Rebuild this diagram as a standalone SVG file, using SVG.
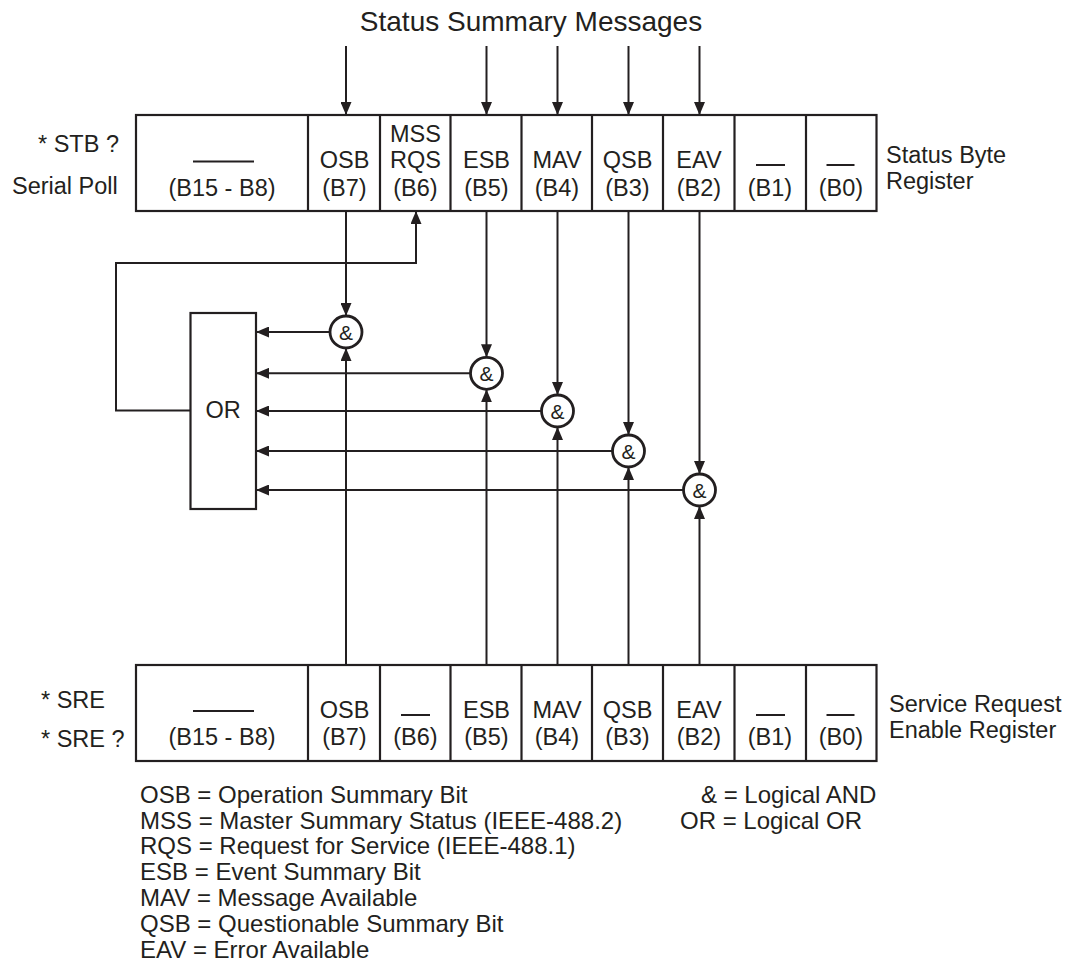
<svg xmlns="http://www.w3.org/2000/svg" width="1072" height="961" viewBox="0 0 1072 961">
<defs>
<marker id="ah" viewBox="0 0 13 11" refX="13" refY="5.5" markerWidth="13" markerHeight="11" orient="auto" markerUnits="userSpaceOnUse"><path d="M0,0 L13,5.5 L0,11 z" fill="#231f20"/></marker>
<style>
text{font-family:"Liberation Sans",Arial,sans-serif;font-size:23.5px;fill:#231f20}
.c{text-anchor:middle}
.t{font-size:28px}
.lg{font-size:24px}
.amp{font-size:21px}
.box{fill:#fff;stroke:#231f20;stroke-width:2.2}
.ln{fill:none;stroke:#231f20;stroke-width:2.2}
.ar{fill:none;stroke:#231f20;stroke-width:2;marker-end:url(#ah)}
.gate{fill:#fff;stroke:#231f20;stroke-width:2.8}
.ov{stroke:#231f20;stroke-width:2}
</style>
</defs>
<rect width="1072" height="961" fill="#fff"/>
<text class="t c" x="531" y="31">Status Summary Messages</text>

<g id="connectors">
<line class="ar" x1="346" y1="46" x2="346" y2="115"/>
<line class="ar" x1="486.5" y1="46" x2="486.5" y2="115"/>
<line class="ar" x1="557.5" y1="46" x2="557.5" y2="115"/>
<line class="ar" x1="628.5" y1="46" x2="628.5" y2="115"/>
<line class="ar" x1="699.5" y1="46" x2="699.5" y2="115"/>
<line class="ar" x1="346" y1="211" x2="346" y2="316"/>
<line class="ar" x1="486.5" y1="211" x2="486.5" y2="357.3"/>
<line class="ar" x1="557.5" y1="211" x2="557.5" y2="395"/>
<line class="ar" x1="628.5" y1="211" x2="628.5" y2="435"/>
<line class="ar" x1="699.5" y1="211" x2="699.5" y2="474"/>
<line class="ar" x1="346" y1="665" x2="346" y2="348"/>
<line class="ar" x1="486.5" y1="665" x2="486.5" y2="389.3"/>
<line class="ar" x1="557.5" y1="665" x2="557.5" y2="427"/>
<line class="ar" x1="628.5" y1="665" x2="628.5" y2="467"/>
<line class="ar" x1="699.5" y1="665" x2="699.5" y2="506"/>
<line class="ar" x1="330" y1="332" x2="256" y2="332"/>
<line class="ar" x1="470.5" y1="373.3" x2="256" y2="373.3"/>
<line class="ar" x1="541.5" y1="411" x2="256" y2="411"/>
<line class="ar" x1="612.5" y1="451" x2="256" y2="451"/>
<line class="ar" x1="683.5" y1="490" x2="256" y2="490"/>
<polyline class="ar" points="190.5,410.5 116,410.5 116,263 416,263 416,211"/>
</g>

<g id="status-byte-register">
<rect class="box" x="136" y="115" width="740.5" height="96"/>
<line class="ln" x1="308" y1="115" x2="308" y2="211"/>
<line class="ln" x1="380" y1="115" x2="380" y2="211"/>
<line class="ln" x1="450.5" y1="115" x2="450.5" y2="211"/>
<line class="ln" x1="521.5" y1="115" x2="521.5" y2="211"/>
<line class="ln" x1="592" y1="115" x2="592" y2="211"/>
<line class="ln" x1="663" y1="115" x2="663" y2="211"/>
<line class="ln" x1="734.5" y1="115" x2="734.5" y2="211"/>
<line class="ln" x1="806" y1="115" x2="806" y2="211"/>
<line class="ov" x1="193" y1="161.5" x2="254" y2="161.5"/>
<text class="c" x="222" y="195.5">(B15 - B8)</text>
<text class="c" x="344.5" y="167.7">OSB</text><text class="c" x="344.5" y="195.5">(B7)</text>
<text class="c" x="415.5" y="141.7">MSS</text><text class="c" x="415.5" y="167.7">RQS</text><text class="c" x="415.5" y="195.5">(B6)</text>
<text class="c" x="486.5" y="167.7">ESB</text><text class="c" x="486.5" y="195.5">(B5)</text>
<text class="c" x="557" y="167.7">MAV</text><text class="c" x="557" y="195.5">(B4)</text>
<text class="c" x="627.5" y="167.7">QSB</text><text class="c" x="627.5" y="195.5">(B3)</text>
<text class="c" x="699" y="167.7">EAV</text><text class="c" x="699" y="195.5">(B2)</text>
<line class="ov" x1="756" y1="165" x2="785" y2="165"/>
<text class="c" x="770" y="195.5">(B1)</text>
<line class="ov" x1="826.5" y1="165" x2="854.5" y2="165"/>
<text class="c" x="841" y="195.5">(B0)</text>
</g>
<g id="status-byte-labels">
<text x="38" y="152">* STB ?</text>
<text x="12" y="194">Serial Poll</text>
<text x="886" y="162.5">Status Byte</text>
<text x="886" y="188.5">Register</text>
</g>

<g id="or-gate">
<rect class="box" x="190.5" y="313" width="65.5" height="196"/>
<text class="c" x="223" y="417.5">OR</text>
</g>
<g id="and-osb"><circle class="gate" cx="346" cy="332" r="16"/><text class="c amp" x="346" y="339.5">&amp;</text></g>
<g id="and-esb"><circle class="gate" cx="486.5" cy="373.3" r="16"/><text class="c amp" x="486.5" y="380.8">&amp;</text></g>
<g id="and-mav"><circle class="gate" cx="557.5" cy="411" r="16"/><text class="c amp" x="557.5" y="418.5">&amp;</text></g>
<g id="and-qsb"><circle class="gate" cx="628.5" cy="451" r="16"/><text class="c amp" x="628.5" y="458.5">&amp;</text></g>
<g id="and-eav"><circle class="gate" cx="699.5" cy="490" r="16"/><text class="c amp" x="699.5" y="497.5">&amp;</text></g>

<g id="service-request-enable-register">
<rect class="box" x="136" y="665" width="740.5" height="96"/>
<line class="ln" x1="308" y1="665" x2="308" y2="761"/>
<line class="ln" x1="380" y1="665" x2="380" y2="761"/>
<line class="ln" x1="450.5" y1="665" x2="450.5" y2="761"/>
<line class="ln" x1="521.5" y1="665" x2="521.5" y2="761"/>
<line class="ln" x1="592" y1="665" x2="592" y2="761"/>
<line class="ln" x1="663" y1="665" x2="663" y2="761"/>
<line class="ln" x1="734.5" y1="665" x2="734.5" y2="761"/>
<line class="ln" x1="806" y1="665" x2="806" y2="761"/>
<line class="ov" x1="193" y1="711" x2="254" y2="711"/>
<text class="c" x="222" y="745">(B15 - B8)</text>
<text class="c" x="344.5" y="718">OSB</text><text class="c" x="344.5" y="745">(B7)</text>
<line class="ov" x1="401" y1="715" x2="430" y2="715"/>
<text class="c" x="415.5" y="745">(B6)</text>
<text class="c" x="486.5" y="718">ESB</text><text class="c" x="486.5" y="745">(B5)</text>
<text class="c" x="557" y="718">MAV</text><text class="c" x="557" y="745">(B4)</text>
<text class="c" x="627.5" y="718">QSB</text><text class="c" x="627.5" y="745">(B3)</text>
<text class="c" x="699" y="718">EAV</text><text class="c" x="699" y="745">(B2)</text>
<line class="ov" x1="756" y1="715" x2="785" y2="715"/>
<text class="c" x="770" y="745">(B1)</text>
<line class="ov" x1="826.5" y1="715" x2="854.5" y2="715"/>
<text class="c" x="841" y="745">(B0)</text>
</g>
<g id="sre-labels">
<text x="41" y="708">* SRE</text>
<text x="41" y="747">* SRE ?</text>
<text x="889" y="712">Service Request</text>
<text x="889" y="738">Enable Register</text>
</g>

<g id="legend">
<text class="lg" x="140" y="802.7">OSB = Operation Summary Bit</text>
<text class="lg" x="140" y="828.5">MSS = Master Summary Status (IEEE-488.2)</text>
<text class="lg" x="140" y="854.3">RQS = Request for Service (IEEE-488.1)</text>
<text class="lg" x="140" y="880.1">ESB = Event Summary Bit</text>
<text class="lg" x="140" y="905.9">MAV = Message Available</text>
<text class="lg" x="140" y="931.7">QSB = Questionable Summary Bit</text>
<text class="lg" x="140" y="957.5">EAV = Error Available</text>
<text class="lg" x="701" y="802.7">&amp; = Logical AND</text>
<text class="lg" x="680" y="828.5">OR = Logical OR</text>
</g>
</svg>
